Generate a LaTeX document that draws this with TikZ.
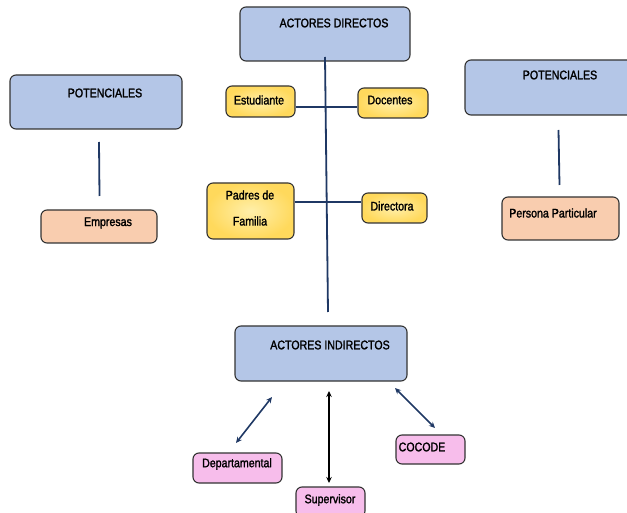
\documentclass[tikz,border=0pt]{standalone}
\usepackage{fontspec}
\setmainfont{Liberation Sans}[FakeStretch=0.85,FakeBold=1.6]
\usetikzlibrary{arrows.meta}
\definecolor{bluefill}{HTML}{B4C6E7}
\definecolor{yellowout}{HTML}{FFD95C}
\definecolor{yellowin}{HTML}{FFEFAA}
\definecolor{peachfill}{HTML}{F9CDAF}
\definecolor{pinkfill}{HTML}{F7BDEB}
\definecolor{boxline}{HTML}{333333}
\definecolor{navy}{HTML}{1F3864}
\tikzset{
  box/.style={draw=boxline, line width=1.1pt, rounded corners=6pt, inner sep=0pt},
  bluebox/.style={box, fill=bluefill},
  yellowbox/.style={box, inner color=yellowin, outer color=yellowout},
  peachbox/.style={box, fill=peachfill},
  pinkbox/.style={box, fill=pinkfill},
  txt/.style={inner sep=0pt, font=\fontsize{12.5}{14}\selectfont, text=black},
  conn/.style={draw=navy, line width=1.8pt},
  dbl/.style={draw=navy, line width=1.6pt, {Stealth[length=6pt,width=5.5pt]}-{Stealth[length=6pt,width=5.5pt]}},
}
\begin{document}
\begin{tikzpicture}[x=1pt,y=-1pt]
\useasboundingbox (0,0) rectangle (627,513);
% boxes
\node[bluebox, minimum width=170, minimum height=54] (ad) at (325,34) {};
\node[yellowbox, minimum width=69, minimum height=31] (est) at (260.5,101.5) {};
\node[yellowbox, minimum width=70, minimum height=30] (doc) at (393,103) {};
\node[bluebox, minimum width=172, minimum height=54] (potl) at (96,102) {};
\node[peachbox, minimum width=116, minimum height=33] (emp) at (99,226.5) {};
\node[yellowbox, minimum width=87, minimum height=56] (pad) at (250.5,211) {};
\node[yellowbox, minimum width=65, minimum height=30] (dir) at (394.5,208) {};
\node[bluebox, minimum width=170, minimum height=55] (potr) at (550,87.5) {};
\node[peachbox, minimum width=117, minimum height=43] (per) at (560.5,218.5) {};
\node[bluebox, minimum width=172, minimum height=55] (ai) at (321,353.5) {};
\node[pinkbox, minimum width=89, minimum height=30] (dep) at (237.5,468) {};
\node[pinkbox, minimum width=69, minimum height=30] (sup) at (330.5,502) {};
\node[pinkbox, minimum width=69, minimum height=29] (coc) at (430.5,449.5) {};
% texts
\node[txt] (adt) at (334,23) {ACTORES DIRECTOS};
\node[txt] (estt) at (259,100) {Estudiante};
\node[txt] (doct) at (390,100) {Docentes};
\node[txt] (potlt) at (105,93) {POTENCIALES};
\node[txt] (empt) at (108,223) {Empresas};
\node[txt] (padt1) at (250,195) {Padres de};
\node[txt] (padt2) at (250,221) {Familia};
\node[txt] (dirt) at (392,206) {Directora};
\node[txt] (potrt) at (560,75) {POTENCIALES};
\node[txt] (pert) at (553,213) {Persona Particular};
\node[txt] (ait) at (330,345) {ACTORES INDIRECTOS};
\node[txt] (dept) at (237,464) {Departamental};
\node[txt] (supt) at (330,500) {Supervisor};
\node[txt] (coct) at (422,447) {COCODE};
% connector coordinates
\coordinate (vtop) at (325,57);
\coordinate (vbot) at (328,312);
\coordinate (h1) at (0,107);
\coordinate (h2) at (0,202);
\coordinate (pl1) at (99,142);
\coordinate (pl2) at (99.5,196);
\coordinate (pr1) at (558.5,130);
\coordinate (pr2) at (559.5,185);
\coordinate (a1s) at (272,397);
\coordinate (a1e) at (236,443);
\coordinate (a2s) at (329,391);
\coordinate (a2e) at (329,483);
\coordinate (a3s) at (395,388);
\coordinate (a3e) at (435,428);
% connectors
\draw[conn] (vtop) -- (vbot);
\draw[conn] (est.east |- h1) -- (doc.west |- h1);
\draw[conn] (pad.east |- h2) -- (dir.west |- h2);
\draw[conn] (pl1) -- (pl2);
\draw[conn] (pr1) -- (pr2);
\draw[dbl] (a1s) -- (a1e);
\draw[dbl, draw=black] (a2s) -- (a2e);
\draw[dbl] (a3s) -- (a3e);
\end{tikzpicture}
\end{document}
